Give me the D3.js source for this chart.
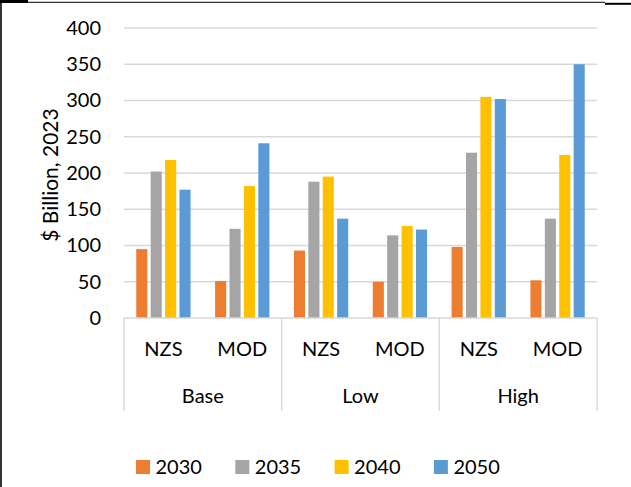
<!DOCTYPE html>
<html>
<head>
<meta charset="utf-8">
<script src="https://cdn.jsdelivr.net/npm/d3@7/dist/d3.min.js"></script>
<style>
  html, body { margin: 0; padding: 0; background: #fff; }
  svg { display: block; }
  text { font-family: Lato, "Open Sans", sans-serif; fill: #000; }
</style>
</head>
<body>
<svg id="chart" width="631" height="487"></svg>
<script>
// Scenario groups and the two pathways inside each
const groups = ["Base", "Low", "High"];
const pathways = ["NZS", "MOD"];
const years = ["2030", "2035", "2040", "2050"];
const colors = ["#ED7D31", "#A5A5A5", "#FFC000", "#5B9BD5"];
const yTicks = [0, 50, 100, 150, 200, 250, 300, 350, 400];

// Values in $ billion (2023), one array per year, ordered Base NZS, Base MOD, Low NZS, Low MOD, High NZS, High MOD
const v2030 = [95, 51, 93, 50, 98, 52];
const v2035 = [202, 123, 188, 114, 228, 137];
const v2040 = [218, 182, 195, 127, 305, 225];
const v2050 = [177, 241, 137, 122, 302, 350];
const seriesValues = [v2030, v2035, v2040, v2050];

const categories = [];
groups.forEach(g => pathways.forEach(p => categories.push({ key: g + "|" + p, group: g, pathway: p })));

const svg = d3.select("#chart");
const W = 631, H = 487;
const plot = { left: 124, right: 597, top: 28, bottom: 318 };

// Frame lines
svg.append("line").attr("x1", 1).attr("x2", 1).attr("y1", 0).attr("y2", H)
  .attr("stroke", "#000").attr("stroke-width", 1.6);
svg.append("line").attr("x1", 0).attr("x2", 605).attr("y1", 2.3).attr("y2", 2.3)
  .attr("stroke", "#000").attr("stroke-width", 1);
svg.append("rect").attr("x", 0).attr("y", 0).attr("width", 28).attr("height", 3).attr("fill", "#000");
svg.append("rect").attr("x", 605).attr("y", 2.8).attr("width", 26).attr("height", 2).attr("fill", "#000");

const y = d3.scaleLinear().domain([0, 400]).range([plot.bottom, plot.top]);
const x0 = d3.scaleBand().domain(categories.map(c => c.key))
  .range([plot.left, plot.right]).paddingInner(0.311).paddingOuter(0.1555);
const x1 = d3.scaleBand().domain(years).range([0, x0.bandwidth()])
  .paddingInner(0.23).paddingOuter(0);

// Gridlines
svg.append("g").selectAll("line").data(yTicks.filter(t => t > 0)).join("line")
  .attr("x1", plot.left).attr("x2", plot.right)
  .attr("y1", d => y(d)).attr("y2", d => y(d))
  .attr("stroke", "#D9D9D9").attr("stroke-width", 1.4);

// Y axis labels
const yAxis = d3.axisLeft(y).tickValues(yTicks).tickSize(0).tickPadding(0);
const yg = svg.append("g").attr("transform", "translate(101,0)").call(yAxis);
yg.select(".domain").remove();
yg.selectAll("text").attr("font-size", 20).attr("font-family", "Lato, 'Open Sans', sans-serif")
  .attr("fill", "#000");

// Axis title
svg.append("text")
  .attr("transform", `translate(58,${(plot.top + plot.bottom) / 2 + 2}) rotate(-90)`)
  .attr("text-anchor", "middle")
  .attr("font-size", 21)
  .text("$ Billion, 2023");

// Bars
years.forEach((yr, si) => {
  svg.append("g").selectAll("rect").data(categories.map((c, ci) => ({ c, v: seriesValues[si][ci] })))
    .join("rect")
    .attr("x", d => x0(d.c.key) + x1(yr))
    .attr("width", x1.bandwidth())
    .attr("y", d => y(d.v))
    .attr("height", d => y(0) - y(d.v))
    .attr("fill", colors[si]);
});

// Category axis: baseline and group separators
svg.append("line").attr("x1", plot.left).attr("x2", plot.right)
  .attr("y1", plot.bottom).attr("y2", plot.bottom)
  .attr("stroke", "#D9D9D9").attr("stroke-width", 1.4);
const groupEdges = [];
groups.forEach((g, gi) => {
  groupEdges.push(plot.left + gi * (plot.right - plot.left) / groups.length);
});
groupEdges.push(plot.right);
svg.append("g").selectAll("line").data(groupEdges).join("line")
  .attr("x1", d => d).attr("x2", d => d)
  .attr("y1", plot.bottom).attr("y2", 411)
  .attr("stroke", "#D9D9D9").attr("stroke-width", 1.4);

// Pathway labels
svg.append("g").selectAll("text").data(categories).join("text")
  .attr("x", d => x0(d.key) + x0.bandwidth() / 2)
  .attr("y", 356)
  .attr("text-anchor", "middle")
  .attr("font-size", 20)
  .text(d => d.pathway);

// Scenario labels
svg.append("g").selectAll("text").data(groups).join("text")
  .attr("x", (d, i) => (groupEdges[i] + groupEdges[i + 1]) / 2)
  .attr("y", 403)
  .attr("text-anchor", "middle")
  .attr("font-size", 20)
  .text(d => d);

// Legend
const legend = svg.append("g").selectAll("g").data(years).join("g")
  .attr("transform", (d, i) => `translate(${136 + i * 99.3},460)`);
legend.append("rect").attr("width", 14).attr("height", 14).attr("fill", (d, i) => colors[i]);
legend.append("text").attr("x", 19.5).attr("y", 14).attr("font-size", 20).text(d => d);
</script>
</body>
</html>
